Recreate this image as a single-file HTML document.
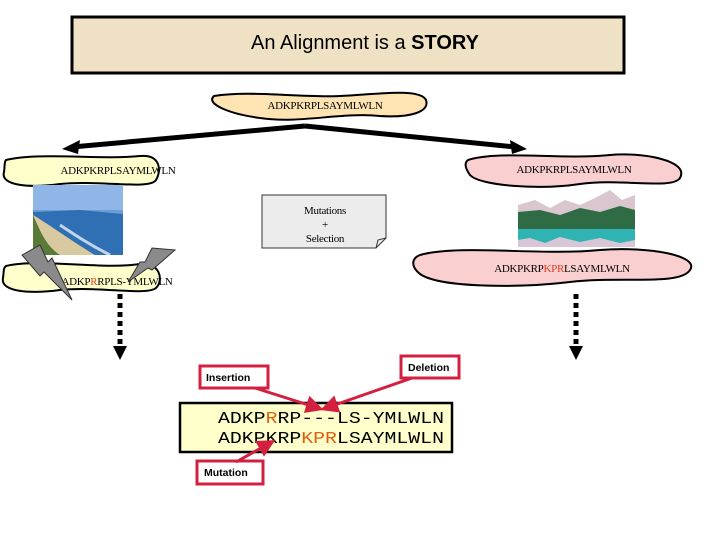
<!DOCTYPE html>
<html><head><meta charset="utf-8"><style>
html,body{margin:0;padding:0;background:#fff;width:720px;height:540px;overflow:hidden}
svg{display:block}
.seq{font-family:"Liberation Serif",serif;font-size:11px;letter-spacing:-0.3px}
.lab{font-family:"Liberation Sans",sans-serif;font-size:10.5px;font-weight:bold}
</style></head><body>
<svg width="720" height="540" viewBox="0 0 720 540" xmlns="http://www.w3.org/2000/svg">
<defs>
<marker id="ra" markerWidth="6" markerHeight="6" refX="4" refY="3" orient="auto"><path d="M0,0 L6,3 L0,6 z" fill="#d42040"/></marker>
</defs>
<!-- title -->
<rect x="72" y="17" width="552" height="56" fill="#efe2c4" stroke="#000" stroke-width="3"/>
<text x="365" y="49" text-anchor="middle" font-family="'Liberation Sans',sans-serif" font-size="20">An Alignment is a <tspan font-weight="bold">STORY</tspan></text>

<!-- top blob -->
<path d="M214,96 C250,90 300,98 340,96 C380,94 420,88 426,100 C430,112 410,118 380,116 C340,112 300,124 260,118 C230,114 205,104 214,96 z" fill="#fde4b2" stroke="#000" stroke-width="2"/>
<text class="seq" x="325" y="109" text-anchor="middle">ADKPKRPLSAYMLWLN</text>

<!-- arrows -->
<path d="M305,126 L72,147" stroke="#000" stroke-width="5"/>
<path d="M62,149 L80,140 L78,154 z" fill="#000"/>
<path d="M305,126 L515,147" stroke="#000" stroke-width="5"/>
<path d="M527,149 L510,140 L512,154 z" fill="#000"/>

<!-- left blob -->
<path d="M6,160 C40,152 100,160 140,156 C160,154 162,170 156,180 C150,190 100,180 60,184 C30,188 0,186 4,172 C5,166 4,162 6,160 z" fill="#ffffcc" stroke="#000" stroke-width="2"/>
<text class="seq" x="118" y="174" text-anchor="middle">ADKPKRPLSAYMLWLN</text>
<!-- right blob -->
<path d="M468,160 C500,150 560,160 610,155 C640,152 690,160 680,178 C672,190 620,178 580,184 C540,190 480,186 470,175 C465,168 464,163 468,160 z" fill="#f9cfd0" stroke="#000" stroke-width="2"/>
<text class="seq" x="574" y="173" text-anchor="middle">ADKPKRPLSAYMLWLN</text>

<!-- beach image -->
<rect x="33" y="185" width="90" height="70" fill="#6a9fd6"/>
<rect x="33" y="185" width="90" height="25" fill="#8fb6e6"/>
<path d="M33,212 L80,210 L123,214 L123,255 L33,255 z" fill="#2f6fb4"/>
<path d="M33,215 C50,225 70,240 95,255 L33,255 z" fill="#d8c9a0"/>
<path d="M33,215 C40,230 45,245 60,255 L33,255 z" fill="#5a7a3a"/>
<path d="M60,225 C75,235 90,245 110,255" stroke="#fff" stroke-width="3" fill="none" opacity="0.7"/>

<!-- note -->
<path d="M262,195 L386,195 L386,238 L376,248 L262,248 z" fill="#ececec" stroke="#333" stroke-width="1"/>
<path d="M376,248 L378,240 L386,238" fill="none" stroke="#333"/>
<text class="seq" x="325" y="214" text-anchor="middle">Mutations</text>
<text class="seq" x="325" y="228" text-anchor="middle">+</text>
<text class="seq" x="325" y="242" text-anchor="middle">Selection</text>

<!-- mountains -->
<rect x="518" y="192" width="117" height="55" fill="#fff"/>
<path d="M518,205 L535,200 L550,208 L565,200 L580,205 L595,198 L610,190 L622,200 L635,195 L635,228 L518,228 z" fill="#d9c6cf"/>
<path d="M518,212 L540,210 L560,215 L580,208 L600,212 L620,206 L635,210 L635,230 L518,232 z" fill="#2f6b45"/>
<rect x="518" y="229" width="117" height="18" fill="#2fb3b3"/>
<path d="M518,240 L530,238 L545,243 L560,237 L580,242 L600,238 L620,243 L635,240 L635,247 L518,247 z" fill="#d8c6d6"/>

<!-- right lower blob -->
<path d="M420,255 C460,244 540,256 600,250 C650,246 700,256 690,270 C680,286 620,276 570,282 C520,288 440,288 420,274 C410,266 412,258 420,255 z" fill="#f9cfd0" stroke="#000" stroke-width="2"/>
<text class="seq" x="562" y="272" text-anchor="middle">ADKPKRP<tspan fill="#e04020">KPR</tspan>LSAYMLWLN</text>

<!-- left lower blob -->
<path d="M6,266 C40,258 100,270 140,264 C160,262 164,280 156,288 C146,296 100,286 60,290 C30,294 0,292 3,278 C4,272 3,268 6,266 z" fill="#ffffcc" stroke="#000" stroke-width="2"/>
<text class="seq" x="117" y="285" text-anchor="middle">ADKP<tspan fill="#e04020">R</tspan>RPLS-YMLWLN</text>
<!-- lightning bolts -->
<path d="M22,255 L40,245 L48,262 L52,258 L72,300 L44,272 L40,276 z" fill="#8a8a8a" stroke="#333" stroke-width="1"/>
<path d="M175,250 L152,248 L145,262 L140,262 L128,282 L148,268 L152,270 z" fill="#8a8a8a" stroke="#333" stroke-width="1"/>

<!-- dotted arrows -->
<line x1="120" y1="294" x2="120" y2="346" stroke="#000" stroke-width="5" stroke-dasharray="5,4"/>
<path d="M113,346 L127,346 L120,360 z" fill="#000"/>
<line x1="576" y1="294" x2="576" y2="346" stroke="#000" stroke-width="5" stroke-dasharray="5,4"/>
<path d="M569,346 L583,346 L576,360 z" fill="#000"/>

<!-- alignment box -->
<rect x="180" y="403" width="272" height="49" fill="#ffffcc" stroke="#000" stroke-width="2.5"/>
<text x="218" y="423" font-family="'Liberation Mono',monospace" font-size="17" textLength="226" lengthAdjust="spacingAndGlyphs">ADKP<tspan fill="#e06010">R</tspan>RP---LS-YMLWLN</text>
<text x="218" y="443" font-family="'Liberation Mono',monospace" font-size="17" textLength="226" lengthAdjust="spacingAndGlyphs">ADKPKRP<tspan fill="#e06010">KPR</tspan>LSAYMLWLN</text>

<!-- labels -->
<rect x="200" y="366" width="68" height="22" fill="#fff" stroke="#d42040" stroke-width="3"/>
<text class="lab" x="206" y="381">Insertion</text>
<rect x="401" y="356" width="58" height="22" fill="#fff" stroke="#d42040" stroke-width="3"/>
<text class="lab" x="408" y="371">Deletion</text>
<rect x="197" y="461" width="66" height="23" fill="#fff" stroke="#d42040" stroke-width="3"/>
<text class="lab" x="204" y="476">Mutation</text>

<line x1="255" y1="388" x2="318" y2="408" stroke="#d42040" stroke-width="3" marker-end="url(#ra)"/>
<line x1="412" y1="378" x2="326" y2="408" stroke="#d42040" stroke-width="3" marker-end="url(#ra)"/>
<line x1="236" y1="462" x2="270" y2="443" stroke="#d42040" stroke-width="3" marker-end="url(#ra)"/>
</svg>
</body></html>
